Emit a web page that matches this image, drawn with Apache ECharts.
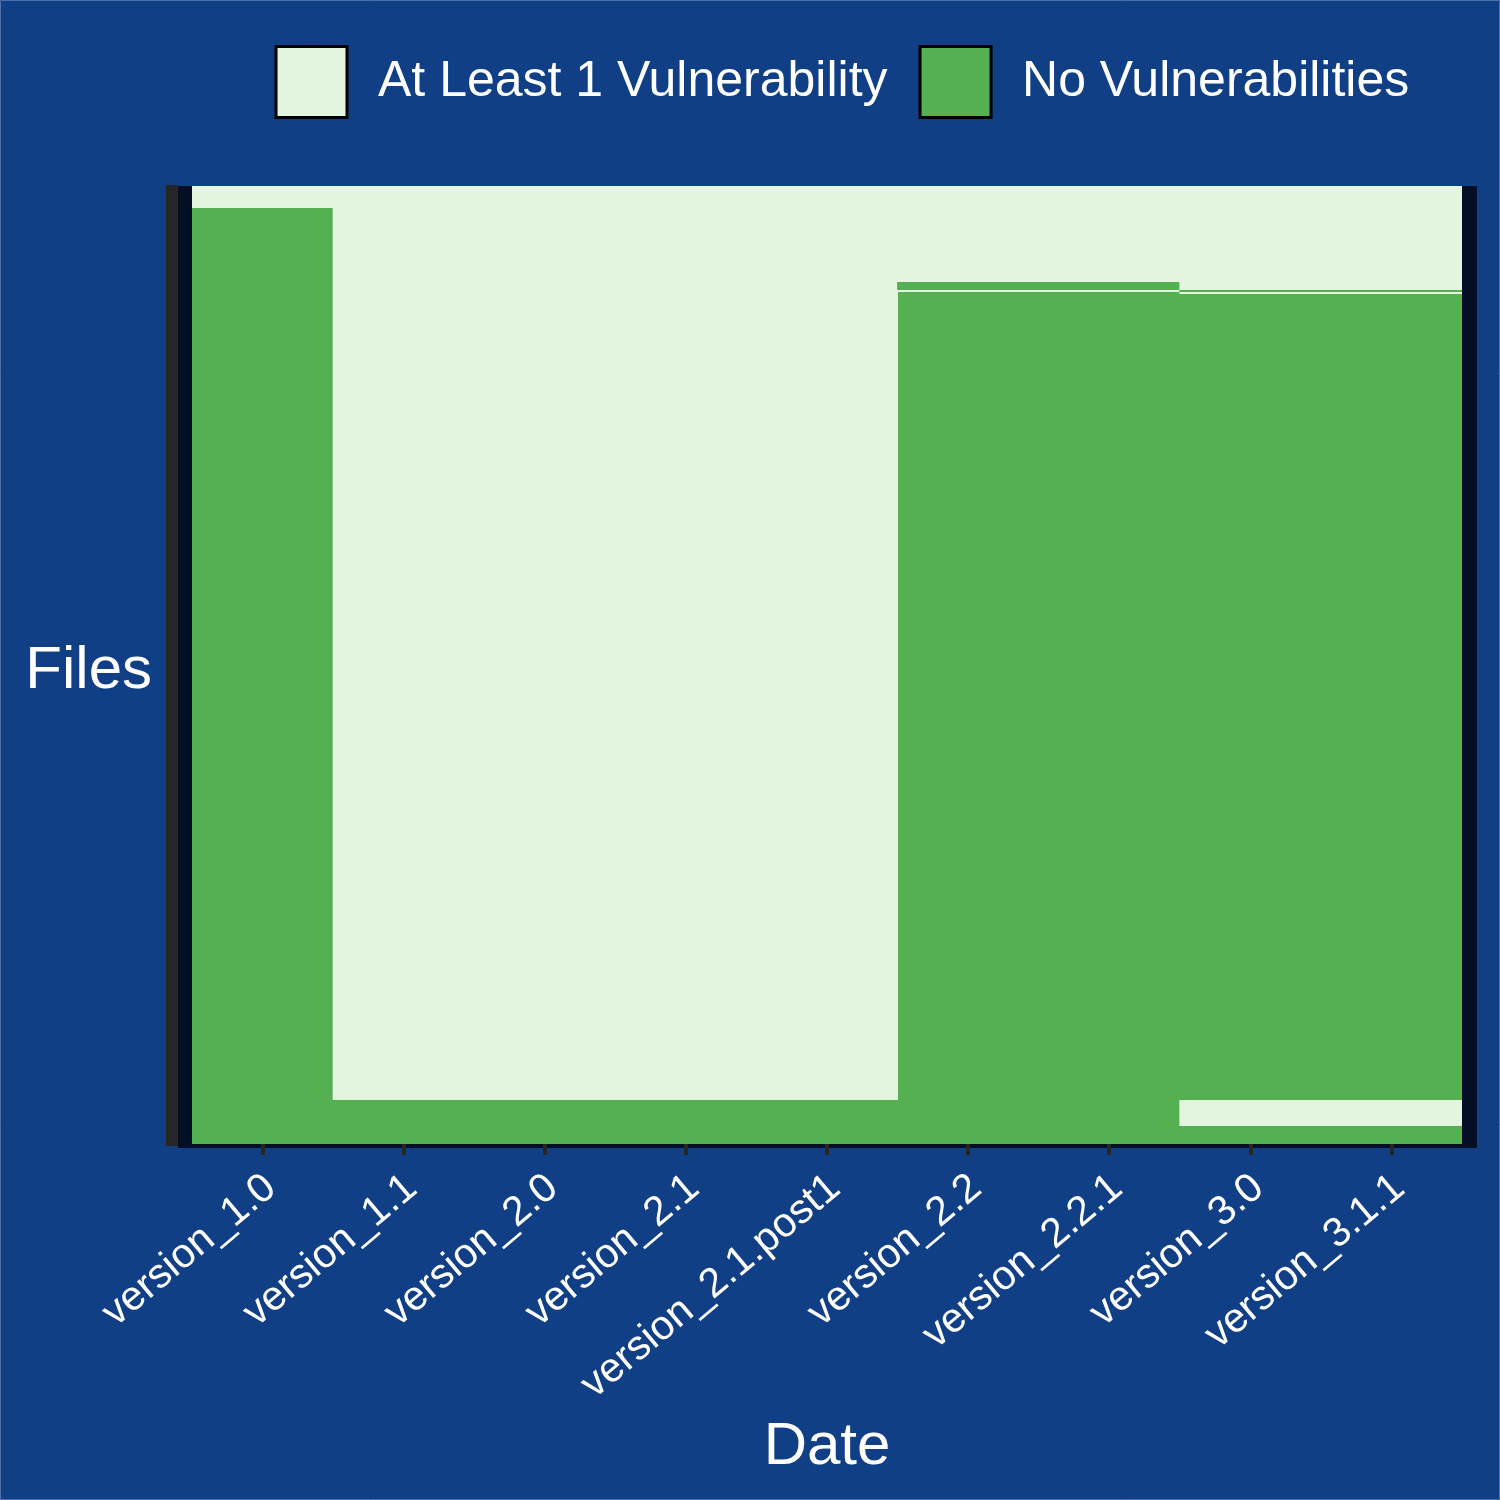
<!DOCTYPE html>
<html>
<head>
<meta charset="utf-8">
<script src="https://cdn.jsdelivr.net/npm/echarts@6/dist/echarts.min.js"></script>
<style>html,body{margin:0;padding:0;background:#113f85;}#c{width:1500px;height:1500px;}</style>
</head>
<body>
<div id="c"></div>
<script>
// Versions (x categories)
const versions = ['version_1.0','version_1.1','version_2.0','version_2.1','version_2.1.post1','version_2.2','version_2.2.1','version_3.0','version_3.1.1'];
const totalFiles = 479;
// Stacked runs of files per version, bottom to top, alternating status
const run1NoVuln   = [468, 22, 22, 22, 22, 426, 426, 9, 9];
const run2Vuln     = [11, 457, 457, 457, 457, 1, 1, 13, 13];
const run3NoVuln   = [0, 0, 0, 0, 0, 4, 4, 403, 403];
const run4Vuln     = [0, 0, 0, 0, 0, 48, 48, 1, 1];
const run5NoVuln   = [0, 0, 0, 0, 0, 0, 0, 1, 1];
const run6Vuln     = [0, 0, 0, 0, 0, 0, 0, 52, 52];

const VULN = 'At Least 1 Vulnerability';
const NOVULN = 'No Vulnerabilities';
const colors = {};
colors[VULN] = '#e4f5df';
colors[NOVULN] = '#55b051';

const layers = [[NOVULN, run1NoVuln],[VULN, run2Vuln],[NOVULN, run3NoVuln],[VULN, run4Vuln],[NOVULN, run5NoVuln],[VULN, run6Vuln]];

const series = layers.map(function(l){
  return {
    type:'bar', name:l[0], stack:'files', xAxisIndex:1, yAxisIndex:1,
    barWidth:142,
    itemStyle:{color:colors[l[0]]},
    data:l[1], silent:true, animation:false
  };
});

const FONT = 'Liberation Sans, Arial, sans-serif';
const chart = echarts.init(document.getElementById('c'), null, {renderer:'canvas'});
chart.setOption({
  backgroundColor:'#113f85',
  animation:false,
  textStyle:{fontFamily:FONT},
  graphic:[{type:'rect', shape:{x:0.5,y:0.5,width:1499,height:1499}, style:{fill:'none', stroke:'#4f6fa6', lineWidth:1}, silent:true}],
  legend:{
    data:[VULN, NOVULN], left:274.5, top:45, orient:'horizontal', padding:0,
    itemWidth:71, itemHeight:71, itemGap:31, icon:'rect',
    itemStyle:{borderColor:'#000000', borderWidth:3},
    textStyle:{color:'#ffffff', fontSize:50, padding:[4,0,0,26], fontFamily:FONT},
    selectedMode:false
  },
  grid:[
    {left:178, top:186, width:1299, height:962, show:true, backgroundColor:'#040e24', borderWidth:0, containLabel:false, outerBoundsMode:'none'},
    {left:192, top:186, width:1270, height:958, show:false, containLabel:false, outerBoundsMode:'none'}
  ],
  xAxis:[
    {gridIndex:0, type:'value', show:false},
    {gridIndex:1, type:'category', data:versions, offset:2,
     axisLine:{show:false},
     axisTick:{show:true, alignWithLabel:true, length:11, lineStyle:{color:'#262626', width:4}},
     axisLabel:{color:'#ffffff', fontSize:41, rotate:40, margin:27, interval:0,
       verticalAlign:'top', lineHeight:25, fontFamily:FONT},
     name:'Date', nameLocation:'middle', nameGap:271, nameMoveOverlap:false,
     nameTextStyle:{color:'#ffffff', fontSize:60, fontFamily:FONT}
    }
  ],
  yAxis:[
    {gridIndex:0, type:'value', show:false},
    {gridIndex:1, type:'value', min:0, max:totalFiles, interval:1, offset:14,
     axisLine:{show:false},
     axisTick:{show:true, length:12, lineStyle:{color:'#262626', width:3}},
     axisLabel:{show:false}, splitLine:{show:false},
     name:'{a|Files}', nameLocation:'middle', nameRotate:0, nameGap:26, nameMoveOverlap:false,
     nameTextStyle:{color:'#ffffff', fontSize:60, fontFamily:FONT,
       rich:{a:{color:'#ffffff', fontSize:60, fontFamily:FONT, padding:[12,0,0,0]}}}
    }
  ],
  series:series
});
</script>
</body>
</html>
